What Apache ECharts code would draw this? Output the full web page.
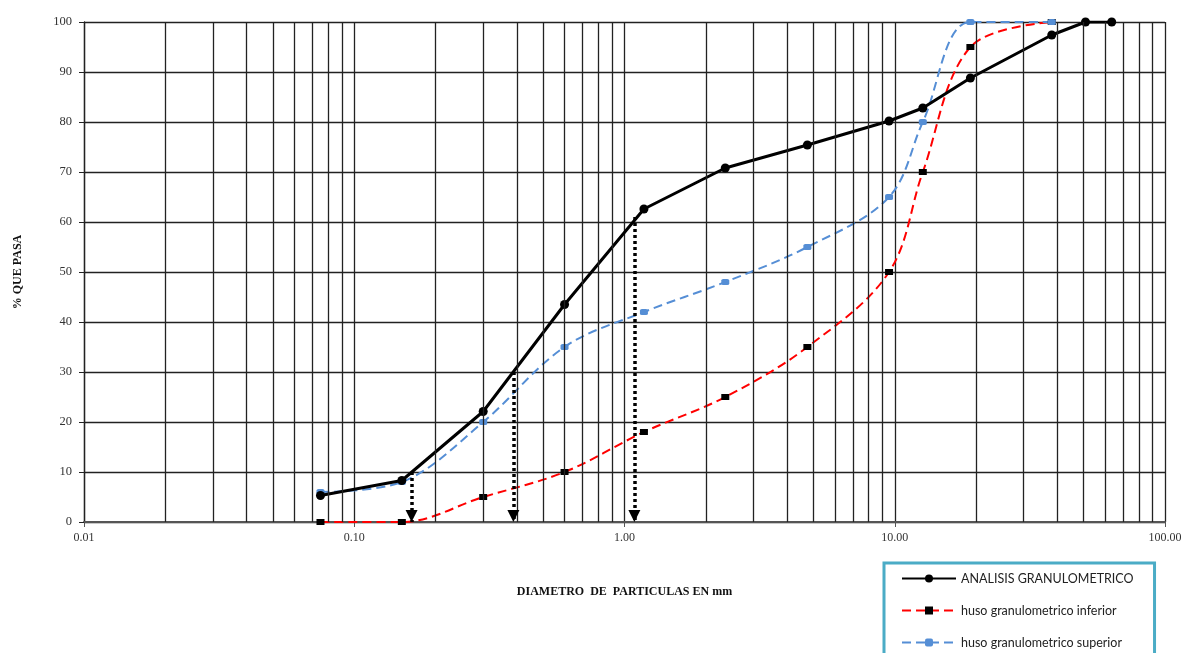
<!doctype html>
<html>
<head>
<meta charset="utf-8">
<title>Curva granulometrica</title>
<script src="https://cdn.jsdelivr.net/npm/echarts@6/dist/echarts.min.js"></script>
<style>
  body { margin: 0; background: #fff; }
  #chart { width: 1186px; height: 653px; }
</style>
</head>
<body>
<div id="chart"></div>
<script>
// abertura de tamices (mm)
var tamices = [0.075, 0.15, 0.3, 0.6, 1.18, 2.36, 4.75, 9.525, 12.7, 19.05, 38.1, 50.8, 63.5];
var analisis = [5.3, 8.3, 22.1, 43.5, 62.6, 70.8, 75.4, 80.2, 82.8, 88.8, 97.4, 100, 100];

var tamicesHuso = [0.075, 0.15, 0.3, 0.6, 1.18, 2.36, 4.75, 9.525, 12.7, 19.05, 38.1];
var husoInferior = [0, 0, 5, 10, 18, 25, 35, 50, 70, 95, 100];
var husoSuperior = [6, 8, 20, 35, 42, 48, 55, 65, 80, 100, 100];

// D10, D30, D60
var dDiam = [0.163, 0.388, 1.088];
var dPasa = [10, 30, 61];

var decadas = [0.01, 0.1, 1, 10];
var multiplos = [2, 3, 4, 5, 6, 7, 8, 9];

function pares(xs, ys) {
    return xs.map(function (x, i) { return [x, ys[i]]; });
}

var lineasMenores = [];
decadas.forEach(function (d) {
    multiplos.forEach(function (m) { lineasMenores.push({ xAxis: +(d * m).toPrecision(3) }); });
});

var flechas = dDiam.map(function (x, i) {
    return [{ coord: [x, dPasa[i]] }, { coord: [x, 0] }];
});

var serif = '"Liberation Serif", "DejaVu Serif", serif';

var myChart = echarts.init(document.getElementById('chart'));
var option = {
    animation: false,
    grid: { left: 84, right: 21, top: 22, bottom: 131 },
    legend: {
        data: [
            { name: 'ANALISIS GRANULOMETRICO' },
            { name: 'huso granulometrico inferior' },
            { name: 'huso granulometrico superior' }
        ],
        orient: 'vertical',
        left: 884,
        top: 563,
        height: 200,
        itemWidth: 54,
        itemHeight: 10,
        itemGap: 19,
        padding: [9, 21, 20, 17],
        borderColor: '#4BACC6',
        borderWidth: 3,
        textStyle: { fontFamily: 'Lato, "Open Sans", sans-serif', fontSize: 12.5, color: '#222' }
    },
    xAxis: {
        type: 'log',
        logBase: 10,
        min: 0.01,
        max: 100,
        name: 'DIAMETRO  DE  PARTICULAS EN mm',
        nameLocation: 'middle',
        nameGap: 64,
        nameTextStyle: { fontFamily: serif, fontWeight: 'bold', fontSize: 12, color: '#111' },
        axisLine: { lineStyle: { color: '#555', width: 2 } },
        axisTick: { show: true, length: 5, lineStyle: { color: '#555' } },
        axisLabel: {
            fontFamily: serif, fontSize: 12, color: '#333', margin: 10,
            formatter: function (v) { return (+v).toFixed(2); }
        },
        splitLine: { show: true, lineStyle: { color: '#222', width: 1.3 } }
    },
    yAxis: {
        type: 'value',
        min: 0,
        max: 100,
        interval: 10,
        name: '% QUE PASA',
        nameLocation: 'middle',
        nameGap: 60,
        nameRotate: 90,
        nameTextStyle: { fontFamily: serif, fontWeight: 'bold', fontSize: 12, color: '#111' },
        axisLine: { show: true, lineStyle: { color: '#222', width: 1.3 } },
        axisTick: { show: true, length: 5, lineStyle: { color: '#222' } },
        axisLabel: { fontFamily: serif, fontSize: 12.5, color: '#333', margin: 12 },
        splitLine: { show: true, lineStyle: { color: '#222', width: 1.3 } }
    },
    series: [
        {
            name: 'rejilla',
            type: 'line',
            data: [],
            silent: true,
            z: 1,
            markLine: {
                silent: true,
                symbol: ['none', 'none'],
                label: { show: false },
                lineStyle: { color: '#222', width: 1.3, type: 'solid' },
                emphasis: { disabled: true },
                data: lineasMenores
            }
        },
        {
            name: 'huso granulometrico inferior',
            type: 'line',
            smooth: 0.35,
            z: 3,
            symbol: 'rect',
            symbolSize: [8, 6],
            itemStyle: { color: '#000' },
            lineStyle: { color: '#FF0000', width: 2, type: [9, 5] },
            data: pares(tamicesHuso, husoInferior)
        },
        {
            name: 'huso granulometrico superior',
            type: 'line',
            smooth: 0.35,
            z: 3,
            symbol: 'roundRect',
            symbolSize: [8, 6],
            itemStyle: { color: '#558ED5' },
            lineStyle: { color: '#558ED5', width: 2, type: [9, 5] },
            data: pares(tamicesHuso, husoSuperior)
        },
        {
            name: 'ANALISIS GRANULOMETRICO',
            type: 'line',
            z: 4,
            symbol: 'circle',
            symbolSize: 9,
            itemStyle: { color: '#000' },
            lineStyle: { color: '#000', width: 3 },
            data: pares(tamices, analisis)
        },
        {
            name: 'D',
            type: 'line',
            data: [],
            z: 5,
            markLine: {
                silent: true,
                symbol: ['none', 'triangle'],
                symbolSize: 12,
                symbolOffset: [0, [0, 6]],
                label: { show: false },
                lineStyle: { color: '#000', width: 3.5, type: [3, 3] },
                itemStyle: { color: '#000' },
                emphasis: { disabled: true },
                data: flechas
            }
        }
    ]
};
myChart.setOption(option);
</script>
</body>
</html>
